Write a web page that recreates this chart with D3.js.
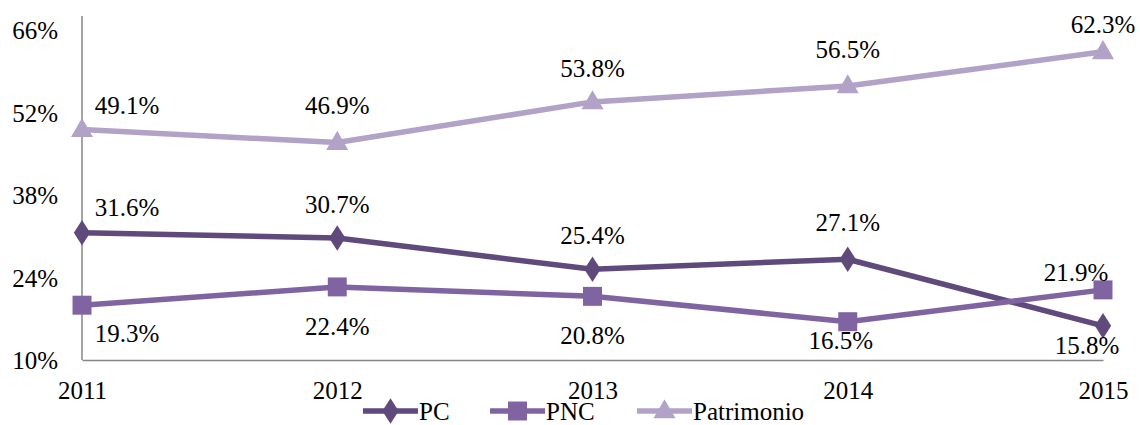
<!DOCTYPE html>
<html>
<head>
<meta charset="utf-8">
<script src="https://cdn.jsdelivr.net/npm/d3@7"></script>
<style>
  html, body { margin: 0; padding: 0; background: #fff; }
  svg { display: block; }
  svg text { font-family: "Liberation Serif", "Times New Roman", serif; }
</style>
</head>
<body>
<svg id="chart" width="1140" height="425"></svg>
<script>
// Years on the horizontal axis
const years = ["2011", "2012", "2013", "2014", "2015"];

// Series values, percent
const pc = [31.6, 30.7, 25.4, 27.1, 15.8];
const pnc = [19.3, 22.4, 20.8, 16.5, 21.9];
const patrimonio = [49.1, 46.9, 53.8, 56.5, 62.3];

// Y tick labels
const yTicks = [10, 24, 38, 52, 66];

const seriesNames = ["PC", "PNC", "Patrimonio"];

// ---- presentation ----
const serif = "Liberation Serif, Times New Roman, serif";
const colors = { PC: "#604a7b", PNC: "#8064a2", Patrimonio: "#b3a2c7" };
const symbols = { PC: d3.symbolDiamond, PNC: d3.symbolSquare, Patrimonio: d3.symbolTriangle };
const symbolSizes = { PC: 190, PNC: 360, Patrimonio: 210 };

// Data-label offsets (from the point to the label's centre) per series and year
const labelOffsets = {
  PC:         [[45, -25], [0, -34], [0, -34], [0, -37], [-16, 20]],
  PNC:        [[45, 28], [0, 40], [0, 39], [-7, 19], [-27, -17]],
  Patrimonio: [[45, -24], [0, -37], [0, -33], [0, -36], [0, -27]]
};

const series = [
  { name: "PC", values: pc },
  { name: "PNC", values: pnc },
  { name: "Patrimonio", values: patrimonio }
];

const svg = d3.select("#chart");
const fontSize = 25;

const x = d3.scalePoint().domain(years).range([82, 1103]);
const y = d3.scaleLinear().domain([10, 66]).range([360, 30]);

// Y axis: vertical rule plus percent labels
const yAxis = d3.axisLeft(y).tickValues(yTicks).tickSize(0).tickPadding(24)
  .tickFormat(d => d + "%");
const gy = svg.append("g").attr("transform", "translate(82,0)").call(yAxis);
gy.select(".domain").remove();
gy.selectAll("text")
  .attr("font-family", serif)
  .attr("font-size", fontSize)
  .attr("fill", "#000")
  .attr("dy", "0.34em");
svg.append("line")
  .attr("x1", 82).attr("x2", 82)
  .attr("y1", y(66) - 14).attr("y2", y(10))
  .attr("stroke", "#868686").attr("stroke-width", 1.5);

// X axis: baseline rule plus year labels
const xAxis = d3.axisBottom(x).tickSize(0).tickPadding(21);
const gx = svg.append("g").attr("transform", `translate(0,${y(10)})`).call(xAxis);
gx.select(".domain").attr("stroke", "#868686").attr("stroke-width", 1.5);
gx.selectAll("text")
  .attr("font-family", serif)
  .attr("font-size", fontSize)
  .attr("fill", "#000")
  .attr("dy", "0.71em");

const line = d3.line().x((d, i) => x(years[i])).y(d => y(d));

// Lines
series.forEach(s => {
  svg.append("path")
    .datum(s.values)
    .attr("d", line)
    .attr("fill", "none")
    .attr("stroke", colors[s.name])
    .attr("stroke-width", 5.5)
    .attr("stroke-linejoin", "round");
});

// Markers
series.forEach(s => {
  const sym = d3.symbol().type(symbols[s.name]).size(symbolSizes[s.name]);
  svg.append("g").selectAll("path")
    .data(s.values)
    .join("path")
    .attr("d", sym)
    .attr("transform", (d, i) => {
      const dy = s.name === "Patrimonio" ? 1 : 0;
      return `translate(${x(years[i])},${y(d) + dy})` + (s.name === "PC" ? " scale(1.1,1)" : "");
    })
    .attr("fill", colors[s.name]);
});

// Data labels
series.forEach(s => {
  svg.append("g").selectAll("text")
    .data(s.values)
    .join("text")
    .attr("x", (d, i) => x(years[i]) + labelOffsets[s.name][i][0])
    .attr("y", (d, i) => y(d) + labelOffsets[s.name][i][1])
    .attr("dy", "0.34em")
    .attr("text-anchor", "middle")
    .attr("font-family", serif)
    .attr("font-size", fontSize)
    .attr("fill", "#000")
    .text(d => d.toFixed(1) + "%");
});

// Legend
const legendX = [363, 490, 637];
const legend = svg.append("g");
series.forEach((s, k) => {
  const g = legend.append("g").attr("transform", `translate(${legendX[k]},411)`);
  g.append("line").attr("x1", 0).attr("x2", 55).attr("y1", 0).attr("y2", 0)
    .attr("stroke", colors[s.name]).attr("stroke-width", 5.5);
  g.append("path")
    .attr("d", d3.symbol().type(symbols[s.name]).size(symbolSizes[s.name])())
    .attr("transform", `translate(27.5,${s.name === "Patrimonio" ? 1 : 0})` + (s.name === "PC" ? " scale(1.1,1)" : ""))
    .attr("fill", colors[s.name]);
  g.append("text")
    .attr("x", 56).attr("y", 0).attr("dy", "0.34em")
    .attr("font-family", serif)
    .attr("font-size", fontSize).attr("fill", "#000")
    .text(s.name);
});
</script>
</body>
</html>
